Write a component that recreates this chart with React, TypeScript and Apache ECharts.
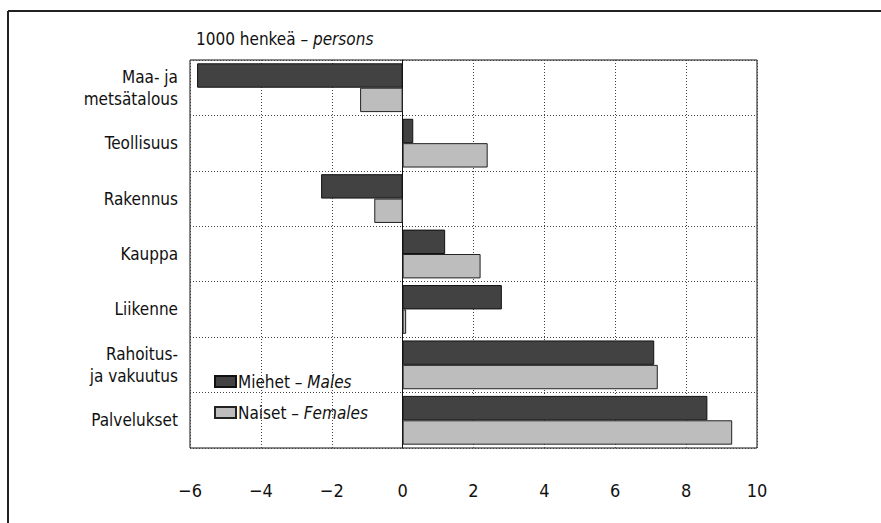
import React, { useEffect, useRef } from "react";
import * as echarts from "echarts";

const categories = [
  "Maa- ja\nmetsätalous",
  "Teollisuus",
  "Rakennus",
  "Kauppa",
  "Liikenne",
  "Rahoitus-\nja vakuutus",
  "Palvelukset",
];
const males = [-5.8, 0.3, -2.3, 1.2, 2.8, 7.1, 8.6];
const females = [-1.2, 2.4, -0.8, 2.2, 0.1, 7.2, 9.3];
const xTicks = { min: -6, max: 10, interval: 2 };

const FONT = "'Liberation Sans Narrow', 'DejaVu Sans Condensed', 'Roboto', sans-serif";

export default function App() {
  const ref = useRef<HTMLDivElement>(null);
  useEffect(() => {
    if (!ref.current) return;
    const chart = echarts.init(ref.current, undefined, { renderer: "svg" });
    chart.setOption({
      animation: false,
      backgroundColor: "#fff",
      textStyle: { fontFamily: FONT, color: "#111" },
      grid: {
        left: 190,
        top: 60,
        width: 567,
        height: 388,
        show: true,
        borderColor: "#111",
        borderWidth: 1,
        backgroundColor: "transparent",
      },
      legend: {
        orient: "vertical",
        left: 209,
        top: 368,
        itemWidth: 21,
        itemHeight: 11,
        itemGap: 14,
        icon: "rect",
        data: ["Miehet", "Naiset"],
        formatter: (name: string) =>
          name === "Miehet" ? "{n|Miehet – }{i|Males}" : "{n|Naiset – }{i|Females}",
        textStyle: {
          fontFamily: FONT,
          fontSize: 17,
          color: "#111",
          padding: [0, 0, 0, -3],
          rich: {
            n: { fontFamily: FONT, fontSize: 17, color: "#111" },
            i: { fontFamily: FONT, fontSize: 17, color: "#111", fontStyle: "italic" },
          },
        },
      },
      xAxis: {
        type: "value",
        min: xTicks.min,
        max: xTicks.max,
        interval: xTicks.interval,
        axisLine: { show: false },
        axisTick: { show: false },
        axisLabel: {
          margin: 33,
          fontFamily: FONT,
          fontSize: 18,
          color: "#111",
          formatter: (v: number) => (v < 0 ? "−" + Math.abs(v) : String(v)),
        },
        splitLine: { show: true, lineStyle: { color: "#444", type: [1, 2], width: 1 } },
      },
      yAxis: {
        type: "category",
        data: categories,
        inverse: true,
        axisLine: { show: true, onZero: true, lineStyle: { color: "#111", width: 1 } },
        axisTick: { show: false },
        axisLabel: {
          margin: 12,
          fontFamily: FONT,
          fontSize: 17,
          lineHeight: 22,
          color: "#111",
          align: "right",
        },
        splitLine: { show: true, lineStyle: { color: "#444", type: [1, 2], width: 1 } },
      },
      series: [
        {
          name: "Miehet",
          type: "bar",
          data: males,
          barGap: "0%",
          barCategoryGap: "12%",
          itemStyle: { color: "#424242", borderColor: "#111", borderWidth: 1 },
        },
        {
          name: "Naiset",
          type: "bar",
          data: females,
          barGap: "0%",
          barCategoryGap: "12%",
          itemStyle: { color: "#bdbdbd", borderColor: "#222", borderWidth: 1 },
        },
      ],
      graphic: [
        {
          type: "text",
          left: 196,
          top: 30,
          style: {
            text: "{n|1000 henkeä – }{i|persons}",
            rich: {
              n: { fontFamily: FONT, fontSize: 17, fill: "#111" },
              i: { fontFamily: FONT, fontSize: 17, fill: "#111", fontStyle: "italic" },
            },
          },
        },
        {
          type: "line",
          shape: { x1: 8, y1: 11, x2: 881, y2: 11 },
          style: { stroke: "#222", lineWidth: 2 },
        },
        {
          type: "line",
          shape: { x1: 8, y1: 11, x2: 8, y2: 523 },
          style: { stroke: "#222", lineWidth: 2 },
        },
      ],
    });
    return () => chart.dispose();
  }, []);
  return (
    <div
      ref={ref}
      style={{ position: "fixed", left: 0, top: 0, width: 881, height: 523 }}
    />
  );
}
